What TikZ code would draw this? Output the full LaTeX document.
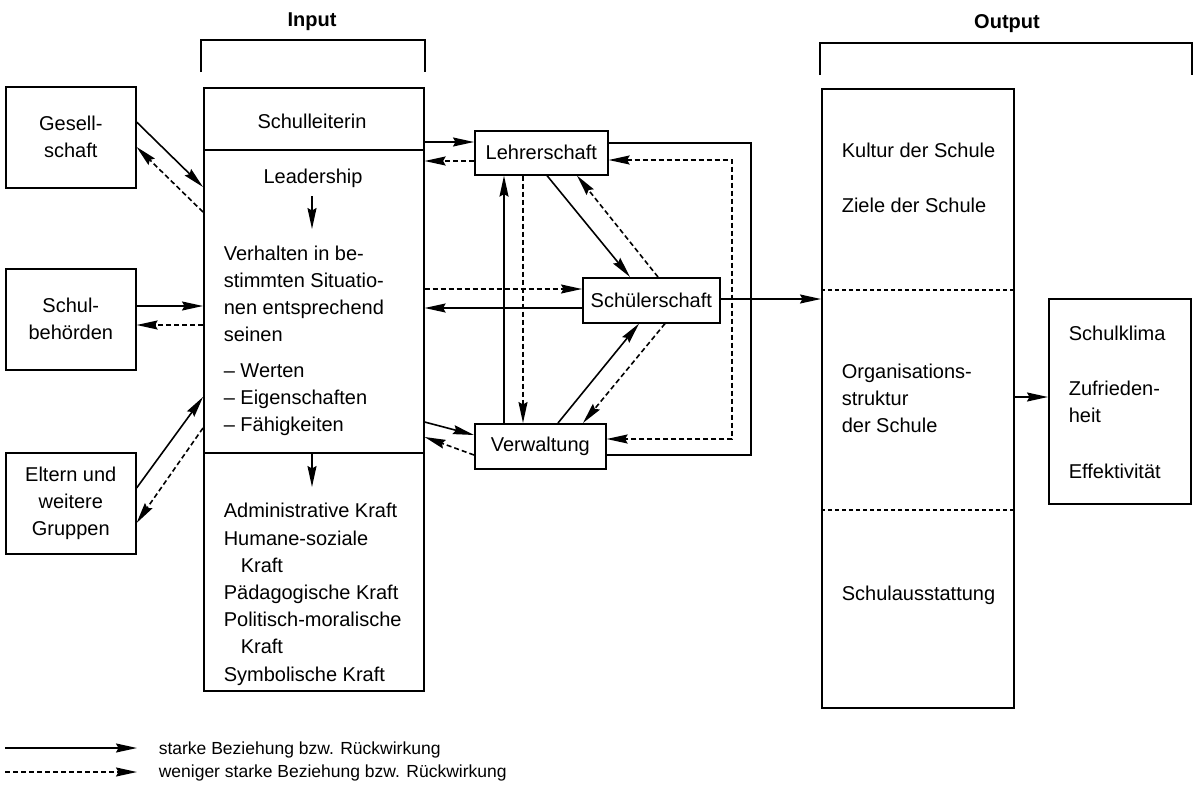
\documentclass[tikz,border=0pt]{standalone}
\usepackage{fontspec}
\setmainfont{Liberation Sans}
\usetikzlibrary{arrows.meta}
\newcommand{\fs}{\fontsize{20}{27}\selectfont}
\newcommand{\fsa}{\fontsize{20}{26.8}\selectfont}
\newcommand{\fsb}{\fontsize{20}{27.2}\selectfont}
\newcommand{\fsl}{\fontsize{17.5}{20}\selectfont}
\begin{document}
\begin{tikzpicture}[x=1pt,y=-1pt, line width=1.6pt,
  tip/.tip={Stealth[length=21pt,width=9pt,inset=2.5pt]},
  strong/.style={-tip},
  weak/.style={strong, dash pattern=on 5pt off 3pt},
  both/.style={tip-tip, dash pattern=on 5pt off 3pt},
  box/.style={draw, anchor=north west, inner sep=0pt, align=center, font=\fs},
  txt/.style={anchor=north west, inner sep=0pt, align=left},
  lbl/.style={anchor=base west, inner sep=0pt, font=\fs},
  sep/.style={line width=1.3pt, dash pattern=on 4pt off 3pt}
]
\useasboundingbox (0,0) rectangle (1197,787);

% headings and brackets
\node[anchor=base, font=\bfseries\fs] (hin) at (312,27) {Input};
\node[anchor=base, font=\bfseries\fs] (hout) at (1007,28) {Output};
\draw (201,72) -- (201,40) -- (425,40) -- (425,72);
\draw (820,75) -- (820,43) -- (1192,43) -- (1192,75);

% left boxes
\node[box, minimum width=130pt, minimum height=101pt] (ges) at (5,86) {Gesell-\\schaft};
\node[box, minimum width=130pt, minimum height=101pt] (beh) at (5,268) {Schul-\\behörden};
\node[box, minimum width=130pt, minimum height=101pt] (elt) at (5,452) {Eltern und\\weitere\\Gruppen};

% input box
\node[draw, anchor=north west, inner sep=0pt, minimum width=220pt, minimum height=603pt] (inp) at (203,87) {};
\draw (inp.west |- 0,150) -- (inp.east |- 0,150);
\draw (inp.west |- 0,453) -- (inp.east |- 0,453);
\node[anchor=base, font=\fs] (sl) at (312,128) {Schulleiterin};
\node[anchor=base, font=\fs] (lead) at (313,183) {Leadership};
\coordinate (la1) at (312,196);
\coordinate (la2) at (312,229);
\draw[strong] (la1) -- (la2);
\node[txt, font=\fsa] (verh) at (223,241.2) {\strut Verhalten in be-\\stimmten Situatio-\\nen entsprechend\\seinen\\[9.5pt]-- Werten\\-- Eigenschaften\\-- Fähigkeiten};
\coordinate (ka1) at (312,454);
\coordinate (ka2) at (312,487);
\draw[strong] (ka1) -- (ka2);
\node[txt, font=\fsb] (kraft) at (223,498) {\strut Administrative Kraft\\Humane-soziale\\\hspace*{17pt}Kraft\\Pädagogische Kraft\\Politisch-moralische\\\hspace*{17pt}Kraft\\Symbolische Kraft};

% middle boxes
\node[box, minimum width=133pt, minimum height=44pt] (leh) at (474,130) {Lehrerschaft};
\node[box, minimum width=137pt, minimum height=45pt] (sch) at (582,277) {Schülerschaft};
\node[box, minimum width=131pt, minimum height=45pt] (ver) at (474,423) {Verwaltung};

% output boxes
\node[draw, anchor=north west, inner sep=0pt, minimum width=192pt, minimum height=619pt] (out) at (821,88) {};
\draw[sep] (out.west |- 0,290) -- (out.east |- 0,290);
\draw[sep] (out.west |- 0,510) -- (out.east |- 0,510);
\node[lbl] (kul) at (841,157) {Kultur der Schule};
\node[lbl] (zie) at (841,212) {Ziele der Schule};
\node[txt, font=\fs] (org) at (841,359.1) {\strut Organisations-\\struktur\\der Schule};
\node[lbl] (aus) at (841,600) {Schulausstattung};

\node[draw, anchor=north west, inner sep=0pt, minimum width=142pt, minimum height=205pt] (res) at (1048,298) {};
\node[lbl] (kli) at (1068,340) {Schulklima};
\node[txt, font=\fs] (zuf) at (1068,376.1) {\strut Zufrieden-\\heit};
\node[lbl] (eff) at (1068,478) {Effektivität};

% left connectors
\draw[strong] (ges.east |- 0,122) -- (inp.west |- 0,187);
\draw[weak] (inp.west |- 0,212) -- (ges.east |- 0,147);
\draw[strong] (beh.east |- 0,306) -- (inp.west |- 0,306);
\draw[weak] (inp.west |- 0,325) -- (beh.east |- 0,325);
\draw[strong] (elt.east |- 0,488) -- (inp.west |- 0,397);
\draw[weak] (inp.west |- 0,428) -- (elt.east |- 0,523);

% input <-> middle
\draw[strong] (inp.east |- 0,142) -- (leh.west |- 0,142);
\draw[weak] (leh.west |- 0,161) -- (inp.east |- 0,161);
\draw[weak] (inp.east |- 0,289) -- (sch.west |- 0,289);
\draw[strong] (sch.west |- 0,308) -- (inp.east |- 0,308);
\draw[strong] (inp.east |- 0,422) -- (ver.west |- 0,435);
\draw[weak] (ver.west |- 0,455) -- (inp.east |- 0,437);

% middle triangle
\draw[strong] (ver.north -| 504,0) -- (leh.south -| 504,0);
\draw[weak] (leh.south -| 523,0) -- (ver.north -| 523,0);
\draw[strong] (leh.south -| 547,0) -- (sch.north -| 630,0);
\draw[weak] (sch.north -| 658,0) -- (leh.south -| 577,0);
\draw[strong] (ver.north -| 558,0) -- (sch.south -| 639,0);
\draw[weak] (sch.south -| 665,0) -- (ver.north -| 583,-4);

% frames on the right
\draw (leh.east |- 0,143) -- (751,143) -- (751,455) -- (ver.east |- 0,455);
\draw[both] (leh.east |- 0,160) -- (732,160) -- (732,439) -- (ver.east |- 0,439);

% to output
\draw[strong] (sch.east |- 0,299) -- (out.west |- 0,299);
\draw[strong] (out.east |- 0,397) -- (res.west |- 0,397);

% legend
\coordinate (l1a) at (5,748);
\coordinate (l1b) at (137,748);
\coordinate (l2a) at (5,772);
\coordinate (l2b) at (137,772);
\draw[strong] (l1a) -- (l1b);
\draw[weak] (l2a) -- (l2b);
\node[anchor=base west, inner sep=0pt, font=\fsl] (leg1) at (158,754) {starke Beziehung bzw. Rückwirkung};
\node[anchor=base west, inner sep=0pt, font=\fsl] (leg2) at (158,777) {weniger starke Beziehung bzw. Rückwirkung};
\end{tikzpicture}
\end{document}
